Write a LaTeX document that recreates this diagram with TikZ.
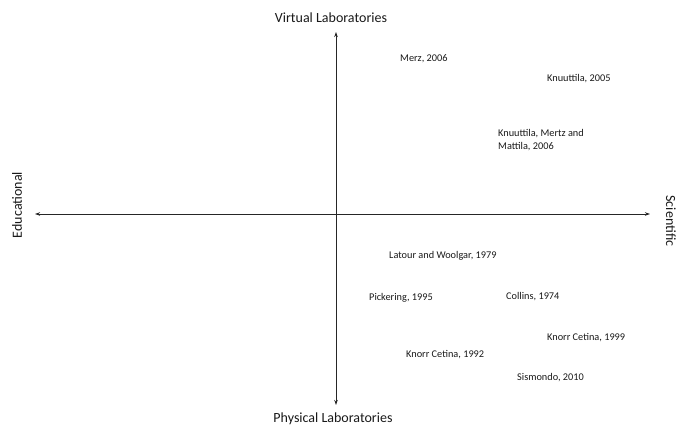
\documentclass[tikz,border=0pt]{standalone}
\usepackage{fontspec}
\setmainfont{Carlito}
\usetikzlibrary{arrows.meta}
\begin{document}
\begin{tikzpicture}[x=1pt,y=-1pt,
  axis/.style={draw=black!85, line width=0.9pt, {Stealth[length=5pt,width=3.5pt]}-{Stealth[length=5pt,width=3.5pt]}},
  big/.style={font=\fontsize{14}{16}\selectfont, inner sep=0pt, text=black!90},
  ref/.style={font=\fontsize{10.3}{13}\selectfont, inner sep=0pt, anchor=west, text=black!90}]
\useasboundingbox (0,0) rectangle (678,428);
\coordinate (top) at (336,32);
\coordinate (bottom) at (336,405);
\coordinate (left) at (35,214);
\coordinate (right) at (650,214);
\draw[axis] (bottom) -- (top);
\draw[axis] (left) -- (right);
\node[big] (virt) at (331,18) {Virtual Laboratories};
\node[big] (phys) at (333,419) {Physical Laboratories};
\node[big, rotate=90] (edu) at (17,205) {Educational};
\node[big, rotate=-90] (sci) at (671,221) {Scientific};
\node[ref] (merz) at (400,59) {Merz, 2006};
\node[ref] (knu) at (547,79) {Knuuttila, 2005};
\node[ref, anchor=north west, align=left] (kmm) at (498,129) {Knuuttila, Mertz and\\Mattila, 2006};
\node[ref] (lat) at (389,256) {Latour and Woolgar, 1979};
\node[ref] (pick) at (369,298) {Pickering, 1995};
\node[ref] (coll) at (506,297) {Collins, 1974};
\node[ref] (kc99) at (547,338) {Knorr Cetina, 1999};
\node[ref] (kc92) at (406,355) {Knorr Cetina, 1992};
\node[ref] (sis) at (517,378) {Sismondo, 2010};
\end{tikzpicture}
\end{document}
